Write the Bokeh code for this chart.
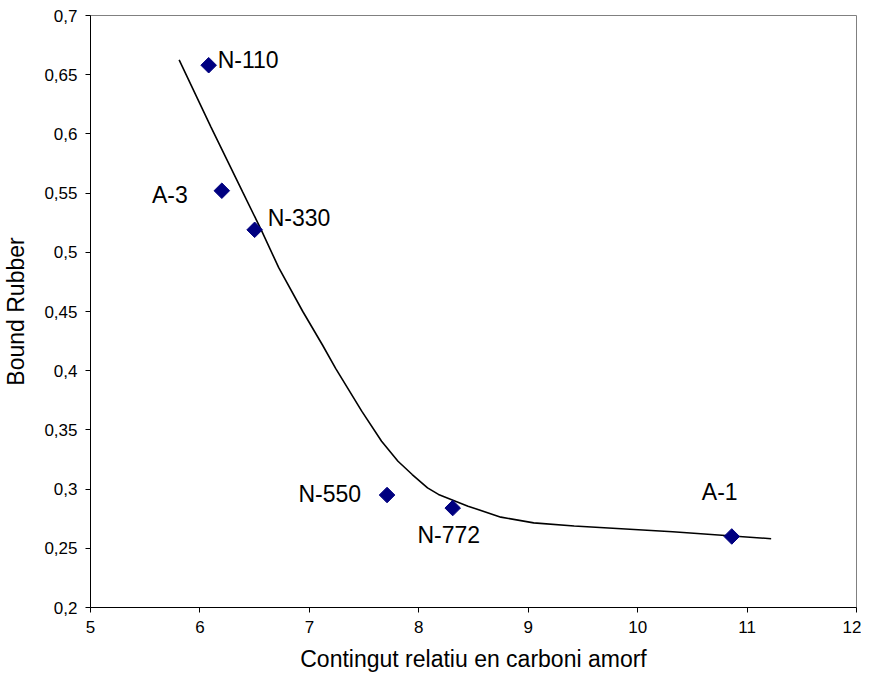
import math
from bokeh.plotting import figure
from bokeh.models import ColumnDataSource, FixedTicker, LabelSet
from bokeh.core.properties import value
from bokeh.embed import file_html
from bokeh.resources import INLINE

# Data points (relative amorphous carbon content vs bound rubber)
names = ["N-110", "A-3", "N-330", "N-550", "N-772", "A-1"]
x_vals = [6.08, 6.20, 6.50, 7.71, 8.31, 10.86]
y_vals = [0.658, 0.552, 0.519, 0.295, 0.284, 0.260]

# Trend curve
curve_x = [5.81, 6.10, 6.39, 6.56, 6.72, 6.94, 7.12, 7.24, 7.36, 7.48, 7.66, 7.81, 7.94, 8.08, 8.18,
           8.45, 8.75, 9.05, 9.42, 10.32, 11.22]
curve_y = [0.6625, 0.606, 0.551, 0.519, 0.487, 0.450, 0.4217, 0.402, 0.3838, 0.3656, 0.3404, 0.3235,
           0.3123, 0.301, 0.2955, 0.2856, 0.2763, 0.2715, 0.2688, 0.264, 0.2581]

x_ticks = [5, 6, 7, 8, 9, 10, 11, 12]
y_ticks = [0.2, 0.25, 0.3, 0.35, 0.4, 0.45, 0.5, 0.55, 0.6, 0.65, 0.7]
y_tick_labels = ["0,2", "0,25", "0,3", "0,35", "0,4", "0,45", "0,5", "0,55", "0,6", "0,65", "0,7"]

# label placement (pixels)
label_dx = [9, -34, 13, -26, -4, -12]
label_dy = [5, -4, 12, 1, -27, 44]
label_align = ["left", "right", "left", "right", "center", "center"]

FONT = "Liberation Sans"

p = figure(width=861, height=675, output_backend="svg", toolbar_location=None,
           x_range=(5, 12), y_range=(0.2, 0.7),
           min_border_left=85, min_border_right=5, min_border_top=15, min_border_bottom=68)

p.xgrid.visible = False
p.ygrid.visible = False
p.outline_line_color = "#808080"
p.outline_line_width = 1
p.background_fill_color = "white"
p.border_fill_color = "white"

p.xaxis.ticker = FixedTicker(ticks=x_ticks)
p.yaxis.ticker = FixedTicker(ticks=y_ticks)
p.yaxis.major_label_overrides = {t: l for t, l in zip(y_ticks, y_tick_labels)}
p.xaxis.major_label_overrides = {t: str(t) for t in x_ticks}

for ax in (p.xaxis, p.yaxis):
    ax.axis_line_color = "black"
    ax.axis_line_width = 1
    ax.major_tick_line_color = "black"
    ax.major_tick_in = 0
    ax.major_tick_out = 5
    ax.minor_tick_line_color = None
    ax.major_label_text_font = FONT
    ax.major_label_text_font_size = "17px"
    ax.major_label_text_color = "black"
    ax.axis_label_text_font = FONT
    ax.axis_label_text_font_size = "23px"
    ax.axis_label_text_font_style = "normal"
    ax.axis_label_text_color = "black"

p.xaxis.axis_label = "Contingut relatiu en carboni amorf"
p.yaxis.axis_label = "Bound Rubber"
p.xaxis.major_label_standoff = 8
p.yaxis.major_label_standoff = 8
p.xaxis.axis_label_standoff = 10
p.yaxis.axis_label_standoff = 12

p.line(curve_x, curve_y, line_color="black", line_width=1.6)

src = ColumnDataSource(dict(x=x_vals, y=y_vals, name=names, dx=label_dx, dy=label_dy, al=label_align))
p.scatter("x", "y", source=src, marker="square", angle=math.pi / 4, size=11,
          fill_color="#000080", line_color="#000080")

labels = LabelSet(x="x", y="y", text="name", source=src, x_offset="dx", y_offset="dy",
                  text_align="al", text_baseline="middle", text_font=value(FONT),
                  text_font_size="23px", text_color="black")
p.add_layout(labels)

open("out.html", "w").write(file_html(p, INLINE))
